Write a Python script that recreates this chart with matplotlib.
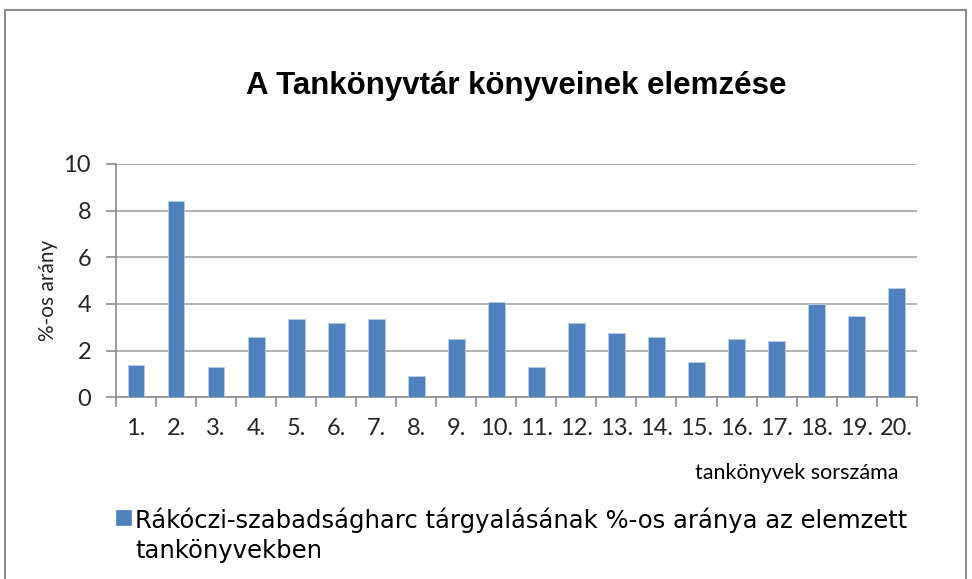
import matplotlib
matplotlib.use("Agg")
import matplotlib.pyplot as plt
from matplotlib.patches import Rectangle
import numpy as np

categories = ["1.", "2.", "3.", "4.", "5.", "6.", "7.", "8.", "9.", "10.",
              "11.", "12.", "13.", "14.", "15.", "16.", "17.", "18.", "19.", "20."]
values = [1.4, 8.4, 1.3, 2.6, 3.35, 3.2, 3.35, 0.9, 2.5, 4.1,
          1.3, 3.2, 2.75, 2.6, 1.5, 2.5, 2.4, 4.0, 3.5, 4.7]
yticks = [0, 2, 4, 6, 8, 10]
series_name = 'Rákóczi-szabadságharc tárgyalásának %-os aránya az elemzett\ntankönyvekben'

plt.rcParams['font.family'] = ['Lato', 'DejaVu Sans']

W, H = 972, 579
fig = plt.figure(figsize=(W / 100, H / 100), dpi=100)
fig.patch.set_facecolor('white')

def fx(px):
    return px / W

def fy(py):
    return 1 - py / H

# outer chart frame
fig.patches.append(Rectangle((fx(5), -0.01), fx(966 - 5), 1 - 10 / H + 0.01,
                             transform=fig.transFigure, fill=False,
                             edgecolor='#8c8c8c', linewidth=1.5))

ax = fig.add_axes([fx(116), fy(397.3), fx(916.7 - 116), (397.3 - 164) / H])
x = np.arange(len(categories))
ax.bar(x, values, width=0.42, color='#4F81BD', edgecolor='#b9cde5', linewidth=0.6,
       zorder=3, label=series_name)

ax.set_xlim(-0.5, len(categories) - 0.5)
ax.set_ylim(0, 10)
ax.set_yticks(yticks)
ax.set_yticklabels([str(t) for t in yticks], fontsize=17, color='#262626')
ax.yaxis.grid(True, color='#a6a6a6', linewidth=1.2, zorder=0)
ax.set_axisbelow(True)

ax.set_xticks(x)
ax.set_xticklabels(categories, fontsize=17, color='#262626')
ax.set_xticks(np.arange(-0.5, len(categories)), minor=True)
ax.tick_params(axis='x', which='major', length=0, pad=15)
ax.tick_params(axis='x', which='minor', length=7, color='#8c8c8c', width=1.2)
ax.tick_params(axis='y', length=7, color='#8c8c8c', width=1.2, pad=11)

for s in ['top', 'right']:
    ax.spines[s].set_visible(False)
for s in ['left', 'bottom']:
    ax.spines[s].set_color('#8c8c8c')
    ax.spines[s].set_linewidth(1.2)

fig.text(fx(48), fy(290), '%-os arány', rotation=90, ha='center', va='center',
         fontsize=15, color='#262626')

fig.text(fx(516), fy(86), 'A Tankönyvtár könyveinek elemzése',
         ha='center', va='center', fontsize=22.5, fontweight='bold',
         family=['Liberation Sans', 'DejaVu Sans'])
fig.text(fx(797), fy(473), 'tankönyvek sorszáma', ha='center', va='center', fontsize=15.5)

# legend (square aligned with first line, as in the reference)
fig.patches.append(Rectangle((fx(116), fy(525)), fx(15), 15 / H,
                             transform=fig.transFigure, facecolor='#4F81BD',
                             edgecolor='#4F81BD', linewidth=0.5))
# va='baseline' anchors the last line's baseline for multi-line text
fig.text(fx(135), fy(558), series_name, ha='left', va='baseline', fontsize=17.5,
         linespacing=1.32, family=['DejaVu Sans'])

fig.savefig('out.png', dpi=100)
